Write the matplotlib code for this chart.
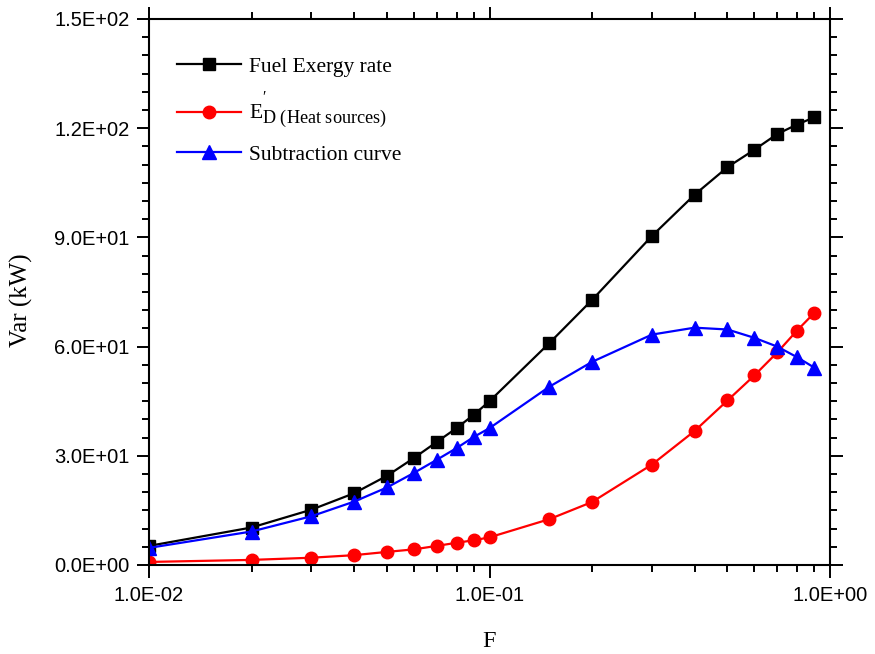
import matplotlib
matplotlib.use("Agg")
import matplotlib.pyplot as plt
import matplotlib._mathtext as _mt
from matplotlib.ticker import FixedLocator, MultipleLocator, LogLocator, NullFormatter

F = [0.01, 0.02, 0.03, 0.04, 0.05, 0.06, 0.07, 0.08, 0.09, 0.1,
     0.15, 0.2, 0.3, 0.4, 0.5, 0.6, 0.7, 0.8, 0.9]
fuel_exergy = [5.25, 10.3, 15.2, 19.7, 24.5, 29.4, 33.8, 37.6, 41.3, 45.0,
               61.0, 72.8, 90.4, 101.7, 109.3, 114.1, 118.4, 121.0, 123.0]
ed_heat = [0.84, 1.4, 2.0, 2.7, 3.6, 4.3, 5.25, 6.1, 6.8, 7.6,
           12.6, 17.3, 27.6, 36.8, 45.2, 52.1, 58.4, 64.4, 69.3]
subtraction = [4.7, 9.2, 13.4, 17.4, 21.3, 25.3, 28.9, 32.1, 35.2, 37.6,
               49.0, 55.8, 63.3, 65.2, 64.7, 62.4, 60.0, 57.1, 54.2]

x_ticks = [0.01, 0.1, 1.0]
x_ticklabels = ["1.0E-02", "1.0E-01", "1.0E+00"]
y_ticks = [0, 30, 60, 90, 120, 150]
y_ticklabels = ["0.0E+00", "3.0E+01", "6.0E+01", "9.0E+01", "1.2E+02", "1.5E+02"]

series_labels = ["Fuel Exergy rate",
                 r"$\mathrm{E}^{'}_{\mathrm{D\ (Heat\ sources)}}$",
                 "Subtraction curve"]

plt.rcParams['mathtext.fontset'] = 'custom'
plt.rcParams['mathtext.rm'] = 'Liberation Serif'
plt.rcParams['mathtext.it'] = 'Liberation Serif:italic'
_mt.SHRINK_FACTOR = 0.85

fig = plt.figure(figsize=(8.75, 6.54), dpi=100)
ax = fig.add_axes([149/875, 1-565/654, (830-149)/875, (565-19)/654])

ax.plot(F, fuel_exergy, color='black', marker='s', markersize=8, lw=1.6,
        label=series_labels[0])
ax.plot(F, ed_heat, color='red', marker='o', markersize=9, lw=1.6,
        label=series_labels[1])
ax.plot(F, subtraction, color='blue', marker='^', markersize=9.5, lw=1.6,
        label=series_labels[2])

ax.set_xscale('log')
ax.set_xlim(0.01, 1.0)
ax.set_ylim(0, 150)
ax.xaxis.set_major_locator(FixedLocator(x_ticks))
ax.set_xticklabels(x_ticklabels)
ax.xaxis.set_minor_locator(LogLocator(base=10, subs=range(2, 10)))
ax.xaxis.set_minor_formatter(NullFormatter())
ax.yaxis.set_major_locator(FixedLocator(y_ticks))
ax.set_yticklabels(y_ticklabels)
ax.yaxis.set_minor_locator(MultipleLocator(5))

ax.tick_params(which='both', direction='out', top=True, right=True,
               labeltop=False, labelright=False, width=1.4)
ax.tick_params(which='major', length=9, labelsize=14.5)
ax.tick_params(axis='y', which='major', pad=5)
ax.tick_params(axis='x', which='major', pad=6)
ax.tick_params(which='minor', length=5)
for lab in ax.get_xticklabels() + ax.get_yticklabels():
    lab.set_family('Liberation Sans')
for s in ax.spines.values():
    s.set_linewidth(1.5)

ax.set_xlabel('F', family='Liberation Serif', fontsize=17.5)
ax.set_ylabel('Var (kW)', family='Liberation Serif', fontsize=18)
ax.xaxis.set_label_coords(0.5, -0.12)
ax.yaxis.set_label_coords(-0.170, 0.485)

leg = ax.legend(loc='upper left', bbox_to_anchor=(0.028, 0.947), borderaxespad=0,
                frameon=False,
                prop={'family': 'Liberation Serif', 'size': 15.5},
                handlelength=3.0, handletextpad=0.37, labelspacing=0.62)

fig.savefig('out.png', dpi=100)
